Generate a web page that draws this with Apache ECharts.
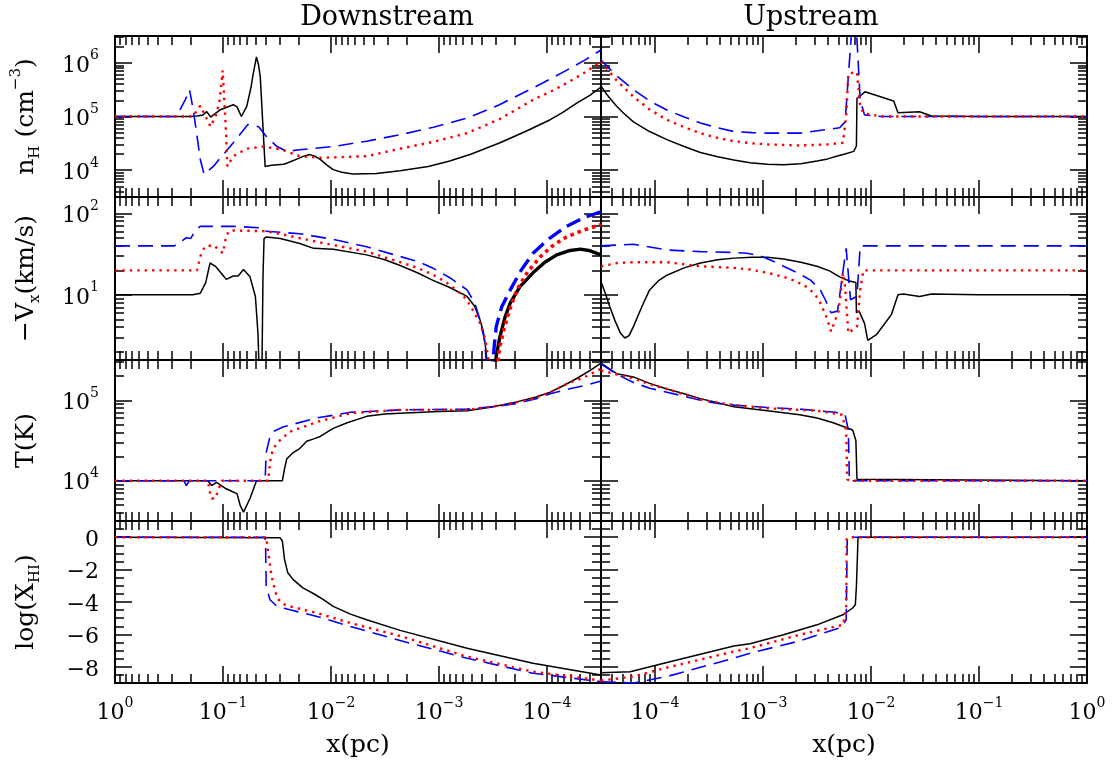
<!DOCTYPE html>
<html>
<head>
<meta charset="utf-8">
<script src="https://cdn.jsdelivr.net/npm/echarts@6/dist/echarts.min.js"></script>
<style>
  html, body { margin: 0; background: #fff; }
  #chart { width: 1113px; height: 763px; }
</style>
</head>
<body>
<div id="chart"></div>
<script>
// all points are [log10(x/pc), value]; value is log10 for rows 1-3, log(X_HI) for row 4

// --- n_H (cm^-3), log10
const nhDownSolid = [[0,5],[-0.69,5],[-0.76,5.01],[-0.815,5.03],[-0.85,5.09],[-0.885,4.99],[-0.97,5.12],[-1.095,5.22],[-1.13,5.18],[-1.17,5.0],[-1.22,5.19],[-1.26,5.55],[-1.28,5.80],[-1.31,6.11],[-1.33,5.95],[-1.345,5.74],[-1.39,4.07],[-1.45,4.09],[-1.56,4.11],[-1.59,4.13],[-1.7,4.22],[-1.76,4.27],[-1.805,4.29],[-1.85,4.26],[-1.9,4.2],[-1.96,4.1],[-2.02,4.01],[-2.1,3.96],[-2.2,3.93],[-2.42,3.94],[-2.64,3.99],[-2.9,4.07],[-3.1,4.17],[-3.3,4.3],[-3.565,4.51],[-3.8,4.72],[-4.03,4.94],[-4.15,5.08],[-4.275,5.25],[-4.4,5.4],[-4.5,5.55]];
const nhDownDot = [[0,5],[-0.72,5],[-0.79,5.2],[-0.885,4.81],[-0.94,5.05],[-0.97,5.31],[-0.997,5.86],[-1.03,4.63],[-1.04,4.07],[-1.095,4.26],[-1.22,4.4],[-1.375,4.44],[-1.55,4.38],[-1.71,4.26],[-1.9,4.23],[-2.33,4.26],[-2.64,4.4],[-2.95,4.53],[-3.26,4.69],[-3.56,4.95],[-3.87,5.31],[-4.05,5.48],[-4.18,5.62],[-4.35,5.82],[-4.5,6.02]];
const nhDownDash = [[0,5],[-0.57,5],[-0.65,5.31],[-0.69,5.5],[-0.725,5.12],[-0.79,4.2],[-0.825,3.92],[-0.91,4.07],[-1.095,4.51],[-1.23,4.85],[-1.33,4.81],[-1.40,4.63],[-1.5,4.44],[-1.59,4.35],[-1.71,4.38],[-2.02,4.44],[-2.33,4.54],[-2.64,4.66],[-2.95,4.8],[-3.26,4.97],[-3.56,5.22],[-3.87,5.53],[-4.05,5.72],[-4.18,5.86],[-4.35,6.05],[-4.5,6.24]];
const nhUpSolid = [[-4.5,5.57],[-4.45,5.42],[-4.4,5.3],[-4.355,5.19],[-4.3,5.08],[-4.2,4.9],[-4.05,4.72],[-3.89,4.57],[-3.73,4.44],[-3.58,4.33],[-3.42,4.25],[-3.27,4.19],[-3.12,4.14],[-2.96,4.11],[-2.81,4.10],[-2.65,4.12],[-2.5,4.17],[-2.4,4.21],[-2.32,4.26],[-2.24,4.3],[-2.16,4.35],[-2.135,4.45],[-2.13,5.34],[-2.09,5.40],[-2.056,5.46],[-1.79,5.29],[-1.75,5.07],[-1.55,5.09],[-1.44,5.01],[-1.0,5.0],[0,5.0]];
const nhUpDot = [[-4.5,6.02],[-4.35,5.66],[-4.2,5.37],[-4.05,5.13],[-3.89,4.94],[-3.73,4.8],[-3.58,4.69],[-3.42,4.6],[-3.27,4.54],[-3.1,4.5],[-2.96,4.48],[-2.66,4.46],[-2.4,4.48],[-2.26,4.51],[-2.23,5.0],[-2.21,5.8],[-2.13,5.83],[-2.1,5.19],[-2.07,5.06],[-1.9,5.0],[0,5.0]];
const nhUpDash = [[-4.5,6.05],[-4.35,5.75],[-4.2,5.5],[-4.05,5.29],[-3.89,5.12],[-3.73,4.99],[-3.58,4.88],[-3.42,4.79],[-3.27,4.72],[-3.1,4.7],[-2.96,4.69],[-2.66,4.69],[-2.29,4.79],[-2.24,4.9],[-2.19,6.3],[-2.17,6.8],[-2.14,6.8],[-2.10,5.31],[-2.06,5.03],[-1.9,5.0],[0,5.0]];

// --- -V_x (km/s), log10
const vxDownSolid = [[0,1],[-0.72,1],[-0.79,1.02],[-0.84,1.15],[-0.88,1.39],[-0.93,1.35],[-1.03,1.19],[-1.095,1.23],[-1.14,1.23],[-1.19,1.31],[-1.25,1.22],[-1.3,0.98],[-1.325,0.5],[-1.335,0],[-1.36,0],[-1.37,1.2],[-1.38,1.69],[-1.4,1.71],[-1.53,1.69],[-1.71,1.63],[-1.84,1.57],[-2.02,1.56],[-2.33,1.49],[-2.5,1.43],[-2.64,1.36],[-2.8,1.27],[-2.94,1.18],[-3.1,1.09],[-3.26,0.98],[-3.33,0.86],[-3.38,0.69],[-3.41,0.55],[-3.43,0.37],[-3.46,0]];
const vxDownSolidThick = [[-3.51,0],[-3.53,0.25],[-3.565,0.49],[-3.61,0.72],[-3.66,0.9],[-3.75,1.1],[-3.87,1.27],[-3.98,1.4],[-4.09,1.49],[-4.2,1.54],[-4.31,1.56],[-4.4,1.54],[-4.5,1.49]];
const vxDownDot = [[0,1.3],[-0.76,1.3],[-0.79,1.47],[-0.83,1.59],[-0.91,1.61],[-1.0,1.51],[-1.03,1.73],[-1.065,1.79],[-1.4,1.78],[-1.59,1.73],[-1.87,1.65],[-2.33,1.53],[-2.64,1.4],[-2.8,1.33],[-2.94,1.25],[-3.06,1.16],[-3.16,1.06],[-3.25,0.95],[-3.31,0.82],[-3.38,0.65],[-3.43,0.45],[-3.48,0]];
const vxDownDotThick = [[-3.53,0],[-3.56,0.35],[-3.6,0.57],[-3.65,0.8],[-3.72,1.06],[-3.82,1.28],[-3.94,1.47],[-4.05,1.6],[-4.18,1.71],[-4.33,1.79],[-4.5,1.86]];
const vxDownDash = [[0,1.6],[-0.55,1.6],[-0.6,1.66],[-0.63,1.67],[-0.66,1.7],[-0.7,1.69],[-0.75,1.8],[-0.79,1.84],[-1.095,1.84],[-1.375,1.82],[-1.40,1.78],[-1.71,1.75],[-2.02,1.68],[-2.33,1.59],[-2.64,1.47],[-2.8,1.41],[-2.94,1.33],[-3.1,1.21],[-3.26,1.06],[-3.33,0.9],[-3.38,0.69],[-3.42,0.45],[-3.45,0]];
const vxDownDashThick = [[-3.49,0],[-3.51,0.35],[-3.53,0.61],[-3.58,0.85],[-3.66,1.06],[-3.76,1.3],[-3.87,1.51],[-4.02,1.69],[-4.18,1.84],[-4.33,1.94],[-4.5,2.02]];
const vxUpSolid = [[-4.5,1.16],[-4.46,1.02],[-4.42,0.86],[-4.37,0.68],[-4.32,0.53],[-4.28,0.47],[-4.24,0.5],[-4.2,0.61],[-4.12,0.86],[-4.05,1.06],[-3.97,1.17],[-3.89,1.24],[-3.73,1.33],[-3.58,1.39],[-3.42,1.43],[-3.27,1.45],[-3.1,1.46],[-2.96,1.46],[-2.81,1.44],[-2.65,1.40],[-2.5,1.35],[-2.38,1.29],[-2.29,1.22],[-2.2,1.17],[-2.14,1.15],[-2.135,0.78],[-2.11,0.8],[-2.06,0.65],[-2.03,0.44],[-1.95,0.51],[-1.81,0.76],[-1.75,1.0],[-1.7,1.01],[-1.55,0.98],[-1.44,1.01],[-1.0,1.0],[0,1.0]];
const vxUpDot = [[-4.5,1.35],[-4.35,1.39],[-4.2,1.40],[-3.89,1.40],[-3.58,1.35],[-3.27,1.33],[-3.12,1.31],[-2.96,1.27],[-2.81,1.22],[-2.7,1.17],[-2.6,1.1],[-2.52,1.01],[-2.47,0.9],[-2.41,0.72],[-2.37,0.55],[-2.3,0.8],[-2.26,1.27],[-2.24,1.1],[-2.21,0.53],[-2.13,0.61],[-2.1,1.06],[-2.07,1.3],[0,1.3]];
const vxUpDash = [[-4.5,1.6],[-4.2,1.62],[-3.89,1.55],[-3.58,1.53],[-3.27,1.52],[-3.15,1.51],[-3.03,1.48],[-2.92,1.42],[-2.81,1.35],[-2.68,1.27],[-2.56,1.18],[-2.47,1.06],[-2.42,0.93],[-2.37,0.78],[-2.31,0.8],[-2.23,1.57],[-2.19,0.94],[-2.13,0.98],[-2.1,1.6],[0,1.6]];

// --- T (K), log10
const tDownSolid = [[0,4],[-0.86,4],[-0.895,3.94],[-0.94,3.98],[-1.03,3.9],[-1.095,3.86],[-1.13,3.84],[-1.16,3.69],[-1.19,3.61],[-1.25,3.78],[-1.31,4.0],[-1.55,4.0],[-1.57,4.15],[-1.59,4.27],[-1.65,4.35],[-1.71,4.40],[-1.775,4.49],[-1.84,4.52],[-1.9,4.55],[-2.02,4.65],[-2.15,4.72],[-2.33,4.8],[-2.5,4.83],[-2.64,4.84],[-3.0,4.86],[-3.26,4.87],[-3.5,4.92],[-3.72,4.98],[-3.9,5.04],[-4.03,5.10],[-4.15,5.18],[-4.275,5.27],[-4.4,5.37],[-4.5,5.46]];
const tDownDot = [[0,4],[-0.86,4],[-0.88,3.85],[-0.895,3.78],[-0.93,3.78],[-0.96,3.9],[-0.99,4.0],[-1.42,4.0],[-1.435,4.23],[-1.46,4.38],[-1.5,4.47],[-1.62,4.61],[-1.87,4.73],[-2.18,4.84],[-2.64,4.88],[-3.26,4.88],[-3.6,4.94],[-3.87,5.02],[-4.05,5.11],[-4.18,5.2],[-4.35,5.29],[-4.5,5.39]];
const tDownDash = [[0,4],[-0.64,4],[-0.66,3.94],[-0.69,4.0],[-1.39,4.0],[-1.40,4.35],[-1.43,4.52],[-1.465,4.61],[-1.56,4.67],[-1.87,4.78],[-2.18,4.85],[-2.64,4.88],[-3.26,4.89],[-3.5,4.92],[-3.72,4.96],[-3.9,5.02],[-4.03,5.08],[-4.2,5.14],[-4.34,5.18],[-4.5,5.24]];
const tUpSolid = [[-4.5,5.46],[-4.355,5.33],[-4.2,5.29],[-4.05,5.21],[-3.89,5.14],[-3.73,5.08],[-3.58,5.02],[-3.42,4.97],[-3.27,4.92],[-2.96,4.87],[-2.66,4.82],[-2.5,4.78],[-2.35,4.72],[-2.25,4.67],[-2.17,4.63],[-2.14,4.5],[-2.13,4.02],[-2.12,4.0],[0,4]];
const tUpDot = [[-4.5,5.37],[-4.35,5.32],[-4.2,5.27],[-4.05,5.2],[-3.89,5.14],[-3.73,5.07],[-3.58,5.01],[-3.42,4.97],[-3.27,4.94],[-2.96,4.9],[-2.66,4.88],[-2.5,4.87],[-2.27,4.82],[-2.23,4.63],[-2.22,4.02],[-2.2,4.0],[0,4]];
const tUpDash = [[-4.5,5.45],[-4.35,5.32],[-4.2,5.22],[-4.05,5.15],[-3.89,5.1],[-3.73,5.05],[-3.58,5.0],[-3.42,4.96],[-3.27,4.94],[-2.96,4.91],[-2.66,4.89],[-2.33,4.85],[-2.24,4.82],[-2.21,4.63],[-2.2,4.0],[0,4]];

// --- log(X_HI)
const xhDownSolid = [[0,0],[-1.53,-0.04],[-1.55,-0.25],[-1.57,-1.38],[-1.6,-2.2],[-1.65,-2.62],[-1.74,-3.13],[-1.84,-3.49],[-1.93,-3.86],[-2.02,-4.27],[-2.18,-4.75],[-2.33,-5.1],[-2.64,-5.75],[-3.26,-6.85],[-3.87,-7.78],[-4.5,-8.5]];
const xhDownDot = [[0,0],[-1.40,0],[-1.415,-0.76],[-1.45,-2.41],[-1.5,-3.75],[-1.55,-4.1],[-1.62,-4.27],[-1.87,-4.68],[-2.18,-5.3],[-2.64,-6.1],[-3.26,-7.37],[-3.87,-8.3],[-4.5,-8.85]];
const xhDownDash = [[0,0],[-1.39,0],[-1.395,-0.8],[-1.4,-3.03],[-1.435,-3.86],[-1.5,-4.27],[-1.62,-4.48],[-1.87,-4.89],[-2.18,-5.51],[-2.64,-6.38],[-3.26,-7.47],[-3.87,-8.4],[-4.5,-8.92]];
const xhUpSolid = [[-4.5,-8.36],[-4.23,-8.3],[-3.89,-7.74],[-3.27,-6.71],[-3.12,-6.58],[-2.81,-6.02],[-2.5,-5.41],[-2.26,-4.79],[-2.17,-4.37],[-2.145,-4.17],[-2.135,-3.03],[-2.12,0],[0,0]];
const xhUpDot = [[-4.5,-8.85],[-4.2,-8.6],[-3.89,-8.05],[-3.27,-7.06],[-3.12,-6.85],[-2.66,-6.02],[-2.26,-5.41],[-2.23,-4.48],[-2.225,-0.14],[-2.21,0],[0,0]];
const xhUpDash = [[-4.5,-8.92],[-4.2,-9.0],[-3.89,-8.6],[-3.27,-7.47],[-3.12,-7.16],[-2.66,-6.4],[-2.27,-5.55],[-2.23,-5.1],[-2.22,-0.14],[-2.2,0],[0,0]];

// ticks (decade exponents / linear values)
const xTicks = [0, -1, -2, -3, -4];
const nhTicks = [4, 5, 6];
const vxTicks = [1, 2];
const tTicks = [4, 5];
const xhTicks = [0, -2, -4, -6, -8];

const X_MIN = -4.5;
const Y_RANGES = [[3.5, 6.5], [0.2, 2.2], [3.5, 5.5], [-9, 1]];
const Y_TICKS = [nhTicks, vxTicks, tTicks, xhTicks];
const COLS = [{ left: 115, width: 486 }, { left: 601, width: 486 }];
const ROWS = [{ top: 36, height: 161 }, { top: 197, height: 163 }, { top: 360, height: 161 }, { top: 521, height: 162 }];
const FONT = 'DejaVu Serif';

const Y_NAMES = [
    '{t|n}{sub|H}{t| (cm}{sup|−3}{t|)}',
    '{t|−V}{sub|x}{t|(km/s)}',
    '{t|T(K)}',
    '{t|log(X}{sub|HI}{t|)}'
];

// minor ticks at 2..9 of each decade
function logMinor(lo, hi) {
    const out = [];
    for (let n = Math.floor(lo); n < hi; n++) {
        for (let k = 2; k < 10; k++) {
            const v = n + Math.log10(k);
            if (v > lo && v < hi) out.push(v);
        }
    }
    return out;
}
function halfMinor(lo, hi) {
    const out = [];
    for (let v = lo; v <= hi; v += 0.5) if (v % 2 !== 0) out.push(v);
    return out;
}

const powRich = {
    b: { fontFamily: FONT, fontSize: 22, lineHeight: 28, verticalAlign: 'bottom', color: '#000' },
    p: { fontFamily: FONT, fontSize: 14, lineHeight: 14, verticalAlign: 'top', color: '#000' }
};
function powLabel(v) {
    const e = Math.round(v);
    return '{b|10}{p|' + (e < 0 ? '−' + (-e) : e) + '}';
}
function linLabel(v) {
    return '{b|' + (v < 0 ? '−' + (-v) : String(v)) + '}';
}

const nameRich = {
    t: { fontFamily: FONT, fontSize: 25, lineHeight: 34, verticalAlign: 'middle', color: '#000' },
    sub: { fontFamily: FONT, fontSize: 15, lineHeight: 15, verticalAlign: 'bottom', color: '#000' },
    sup: { fontFamily: FONT, fontSize: 15, lineHeight: 15, verticalAlign: 'top', color: '#000' }
};

const grids = [], xAxes = [], yAxes = [];
const xMinor = logMinor(X_MIN, 0);

for (let r = 0; r < 4; r++) {
    for (let c = 0; c < 2; c++) {
        const g = grids.length;
        grids.push({
            left: COLS[c].left, top: ROWS[r].top, width: COLS[c].width, height: ROWS[r].height,
            containLabel: false, outerBoundsMode: 'none'
        });
        // x axes: bottom major, bottom minor, top major, top minor
        ['bottom', 'top'].forEach(pos => {
            [true, false].forEach(major => {
                const labelled = major && pos === 'bottom' && r === 3;
                xAxes.push({
                    type: 'value', gridIndex: g, position: pos, min: X_MIN, max: 0, inverse: c === 0,
                    axisLine: { show: major, onZero: false, lineStyle: { color: '#000', width: 2 } },
                    axisTick: { show: true, inside: true, length: major ? 17 : 9, customValues: major ? xTicks : xMinor,
                        lineStyle: { color: '#000', width: 1.5 } },
                    axisLabel: { show: labelled, customValues: xTicks, formatter: powLabel, margin: 13, rich: powRich },
                    splitLine: { show: false },
                    name: labelled ? 'x(pc)' : '', nameLocation: 'middle', nameGap: 50, nameMoveOverlap: false,
                    nameTextStyle: { fontFamily: FONT, fontSize: 25, color: '#000' }
                });
            });
        });
        // y axes: left major, left minor, right major, right minor
        const [ymin, ymax] = Y_RANGES[r];
        const yMinor = r === 3 ? halfMinor(ymin, ymax) : logMinor(ymin, ymax);
        ['left', 'right'].forEach(pos => {
            [true, false].forEach(major => {
                const labelled = major && pos === 'left' && c === 0;
                yAxes.push({
                    type: 'value', gridIndex: g, position: pos, min: ymin, max: ymax,
                    axisLine: { show: major, onZero: false, lineStyle: { color: '#000', width: 2 } },
                    axisTick: { show: true, inside: true, length: major ? 17 : 9, customValues: major ? Y_TICKS[r] : yMinor,
                        lineStyle: { color: '#000', width: 1.5 } },
                    axisLabel: { show: labelled, customValues: Y_TICKS[r], formatter: r === 3 ? linLabel : powLabel,
                        margin: 16, rich: powRich },
                    splitLine: { show: false },
                    name: labelled ? Y_NAMES[r] : '', nameLocation: 'middle', nameGap: 72, nameMoveOverlap: false,
                    nameTextStyle: { rich: nameRich }
                });
            });
        });
    }
}

const SOLID = { color: '#000000', width: 1.5, type: 'solid' };
const DOT = { color: '#ff0000', width: 2.4, type: [2.4, 5] };
const DASH = { color: '#0000ff', width: 1.6, type: [15, 8] };
const SOLID_THICK = { color: '#000000', width: 3.4, type: 'solid' };
const DOT_THICK = { color: '#ff0000', width: 3.6, type: [3.6, 4] };
const DASH_THICK = { color: '#0000ff', width: 3.4, type: [15, 7] };

const series = [];
function addLine(g, data, style) {
    series.push({
        type: 'line', xAxisIndex: 4 * g, yAxisIndex: 4 * g, data: data,
        showSymbol: false, symbol: 'none', clip: true, lineStyle: style, silent: true
    });
}
// grid order: row-major, left = Downstream, right = Upstream
const panels = [
    [nhDownSolid, nhDownDash, nhDownDot], [nhUpSolid, nhUpDash, nhUpDot],
    [vxDownSolid, vxDownDash, vxDownDot], [vxUpSolid, vxUpDash, vxUpDot],
    [tDownSolid, tDownDash, tDownDot], [tUpSolid, tUpDash, tUpDot],
    [xhDownSolid, xhDownDash, xhDownDot], [xhUpSolid, xhUpDash, xhUpDot]
];
panels.forEach((p, g) => {
    addLine(g, p[0], SOLID);
    if (g === 2) addLine(g, vxDownSolidThick, SOLID_THICK);
    addLine(g, p[1], DASH);
    if (g === 2) addLine(g, vxDownDashThick, DASH_THICK);
    addLine(g, p[2], DOT);
    if (g === 2) addLine(g, vxDownDotThick, DOT_THICK);
});

const chart = echarts.init(document.getElementById('chart'));
chart.setOption({
    animation: false,
    backgroundColor: '#ffffff',
    grid: grids,
    xAxis: xAxes,
    yAxis: yAxes,
    series: series,
    graphic: [
        { type: 'text', x: 387, y: 18, style: { text: 'Downstream', fontFamily: FONT, fontSize: 27, fill: '#000', align: 'center', verticalAlign: 'middle' } },
        { type: 'text', x: 811, y: 18, style: { text: 'Upstream', fontFamily: FONT, fontSize: 27, fill: '#000', align: 'center', verticalAlign: 'middle' } }
    ]
});
</script>
</body>
</html>
